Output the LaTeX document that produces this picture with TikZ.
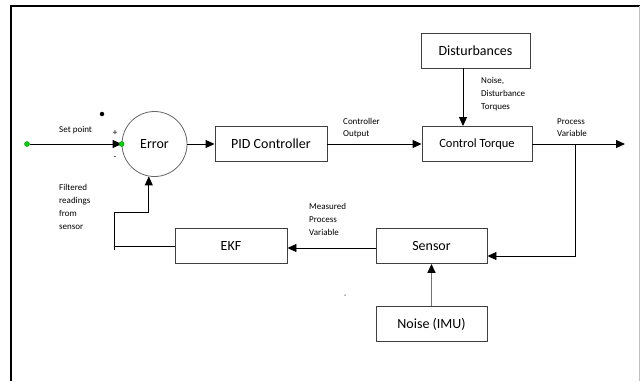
\documentclass[tikz,border=0pt]{standalone}
\usepackage{fontspec}
\setmainfont{Carlito}
\usetikzlibrary{arrows.meta,positioning}
\tikzset{
  blk/.style={draw=black!75, line width=0.9pt, minimum width=111pt, minimum height=35pt,
    inner sep=0pt, font=\fontsize{14}{16}\selectfont},
  sml/.style={anchor=north west, align=left, inner sep=0pt, font=\fontsize{9}{13}\selectfont},
  arr/.style={-{Triangle[length=9pt,width=8pt]}, line width=0.9pt},
  gdot/.style={circle, fill=green!85!black, draw=green!45!black, line width=0.3pt,
    inner sep=0pt, minimum size=5pt}
}
\begin{document}
\begin{tikzpicture}[x=1pt,y=-1pt]
\useasboundingbox (0,0) rectangle (640,381);
\draw[line width=2pt] (11,381) -- (11,6) -- (640,6);
\draw[black!25] (639,6) -- (639,381);

\node[blk, minimum width=109pt] (dist) at (475.5,50.5) {Disturbances};
\node[blk, minimum width=110pt, font=\fontsize{12.5}{15}\selectfont] (ct) at (477,144) {Control Torque};
\node[blk, minimum width=112pt] (pid) at (271,144) {PID Controller};
\node[circle, draw=black!60, line width=0.8pt, minimum size=65pt, inner sep=0pt,
  font=\fontsize{14}{16}\selectfont] (err) at (154.5,144) {Error};
\node[blk] (sen) at (431.5,246) {Sensor};
\node[blk, minimum width=112pt] (ekf) at (231,246) {EKF};
\node[blk] (imu) at (431.5,324) {Noise (IMU)};

\node[gdot] (sp) at (27,144) {};
\draw[arr] (sp) -- (err.west);
\node[gdot] (spin) at (err.west) {};
\node[sml, anchor=west] (splbl) at (59,130) {Set point};
\node[sml, anchor=center] (plus) at (115,133) {+};
\node[sml, anchor=center] (minus) at (115,158) {-};
\node[circle, fill, inner sep=0pt, minimum size=4.5pt] (blob) at (102,114) {};
\node[circle, fill=black!60, inner sep=0pt, minimum size=1.5pt] (speck) at (345,295) {};

\draw[arr] (err) -- (pid);
\draw[arr] (pid) -- (ct);
\coordinate (out) at (625,144);
\coordinate (tap) at (575,144);
\draw[arr] (ct) -- (out);
\draw[arr] (tap) |- ([yshift=-10pt]sen.east);
\draw[arr] ([xshift=-12.5pt]dist.south) -- ([xshift=-14pt]ct.north);
\draw[arr] ([yshift=-2pt]sen.west) -- ([yshift=-2pt]ekf.east);
\draw[-{Triangle[length=9pt,width=8pt,black]}, draw=black!55, line width=1.6pt] (imu.north) -- (sen.south);
\coordinate (fb) at (114,246);
\draw[line width=0.9pt] (ekf.west) -- (fb);
\draw[arr] ([yshift=-4pt]fb) -- ++(0,-38) -| (err.-100);

\node[sml] (distlbl) at (481,77) {Noise,\\Disturbance\\Torques};
\node[sml, font=\fontsize{9}{12}\selectfont] (colbl) at (343,118.5) {Controller\\Output};
\node[sml, font=\fontsize{9}{12}\selectfont] (pvlbl) at (557,118.5) {Process\\Variable};
\node[sml] (mpvlbl) at (309,203.5) {Measured\\Process\\Variable};
\node[sml] (fltlbl) at (59,184.5) {Filtered\\readings\\from\\sensor};
\end{tikzpicture}
\end{document}
